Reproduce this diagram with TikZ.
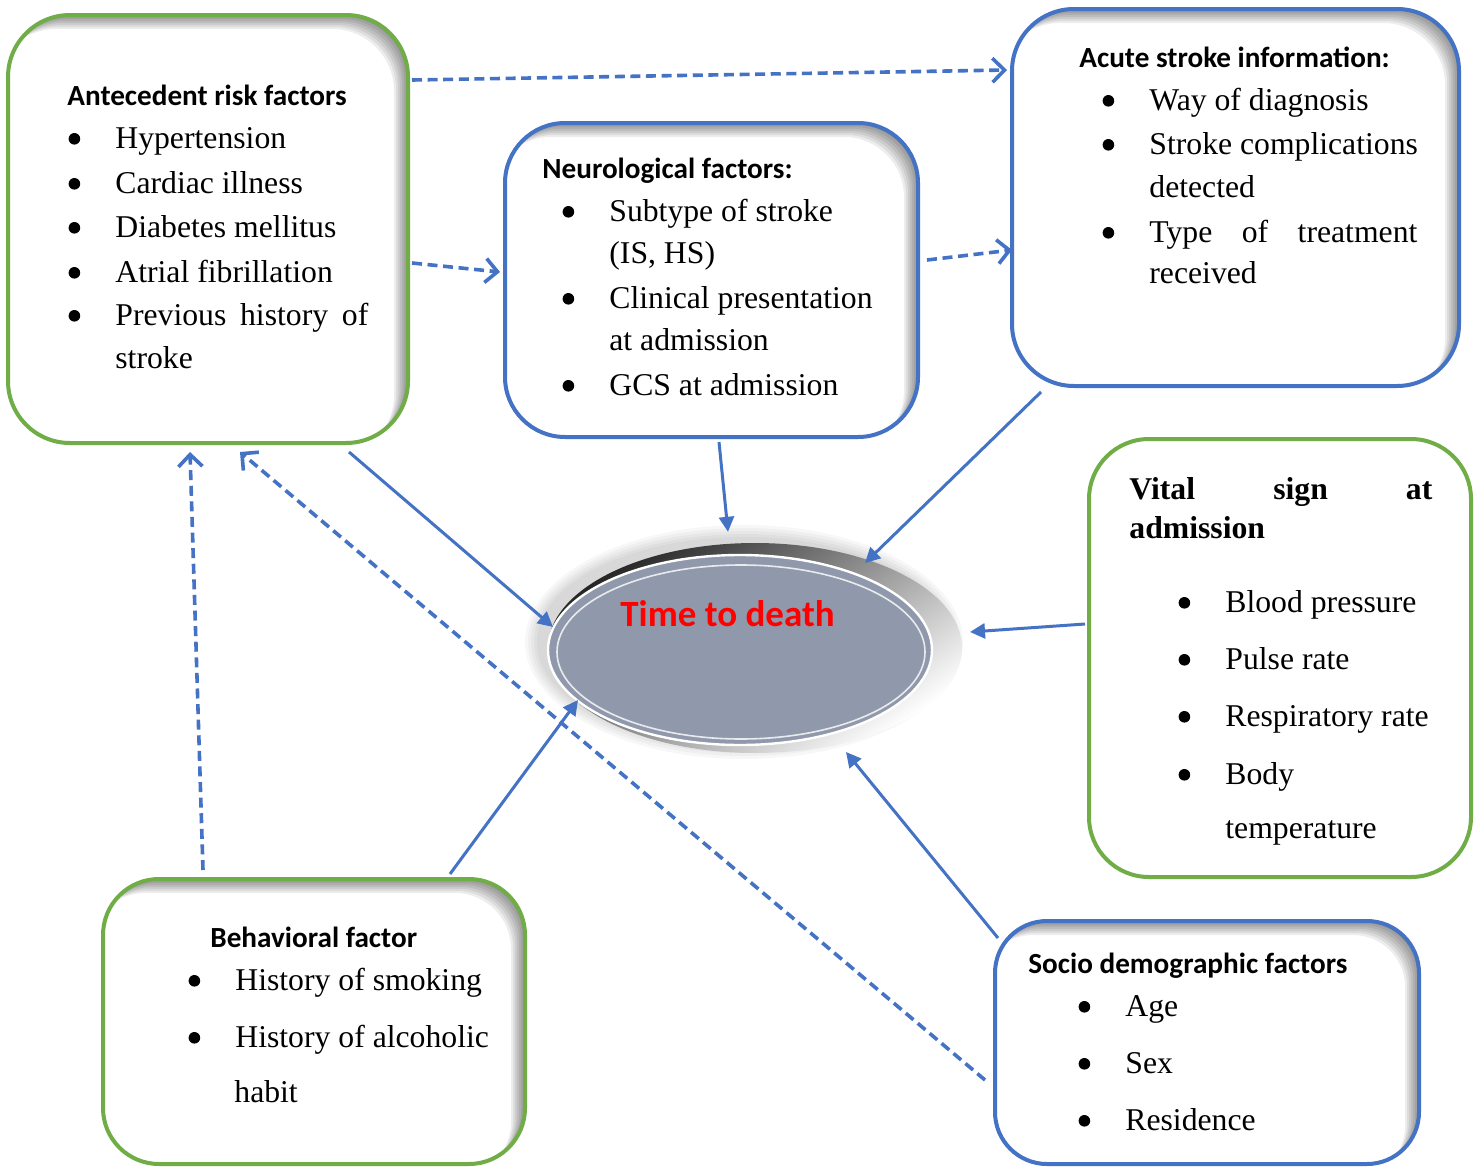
\documentclass[tikz,border=0pt]{standalone}
\usepackage{fontspec}
\setmainfont{Liberation Serif}
\newfontfamily\calfont{Carlito}
\usetikzlibrary{arrows.meta,calc,shapes.geometric}
\definecolor{bblue}{HTML}{4472C4}
\definecolor{bgreen}{HTML}{70AD47}
\definecolor{facegray}{HTML}{9099AC}
\newcommand\bulit{\makebox[0pt][c]{\raisebox{1.7pt}{\tikz\fill[black] (0,0) circle (2.9pt);}}\hspace{20.5pt}}
\newcommand\inshadow[5]{%
  \begin{scope}
    \clip[rounded corners=#5] (#1,#2) rectangle (#3,#4);
    \foreach \s in {2,4,...,14}{
      \fill[black, opacity=0.07, even odd rule, rounded corners=#5]
        (#1-60,#2-60) rectangle (#3+60,#4+60)
        (#1-\s,#2+\s) rectangle (#3-\s,#4+\s);
    }
  \end{scope}}
\begin{document}
\begin{tikzpicture}[x=0.5pt,y=-0.5pt,
  box/.style={draw=#1, line width=2pt, inner sep=0pt, rectangle},
  hd/.style={font=\calfont\bfseries\fontsize{14.6}{17}\selectfont, anchor=base west, inner sep=0pt},
  it/.style={font=\fontsize{15.85}{19}\selectfont, anchor=base west, inner sep=0pt},
  sarr/.style={draw=bblue, line width=1.5pt, -{Triangle[length=7.5pt,width=7.5pt]}},
  darr/.style={draw=bblue, line width=1.8pt, dash pattern=on 5pt off 2.8pt, -{Straight Barb[length=6pt,width=12pt]}}]
\useasboundingbox (0,0) rectangle (1478,1167);
\fill[white] (0,0) rectangle (1478,1167);

% inner shadows
\inshadow{8}{15}{408}{443}{31pt}
\inshadow{505}{123}{918}{437}{30pt}
\inshadow{1012}{9}{1459}{386}{31pt}
\inshadow{103}{879}{525}{1164}{28pt}
\inshadow{995}{921}{1419}{1164}{26pt}

% boxes
\node[box=bgreen, rounded corners=31pt, minimum width=200pt, minimum height=214pt] (A) at (208,229) {};
\node[box=bblue, rounded corners=30pt, minimum width=206.5pt, minimum height=157pt] (N) at (711.5,280) {};
\node[box=bblue, rounded corners=31pt, minimum width=223.5pt, minimum height=188.5pt] (S) at (1235.5,197.5) {};
\node[box=bgreen, rounded corners=30pt, minimum width=191pt, minimum height=219pt] (V) at (1280,658) {};
\node[box=bgreen, rounded corners=28pt, minimum width=211pt, minimum height=142.5pt] (B) at (314,1021.5) {};
\node[box=bblue, rounded corners=26pt, minimum width=212pt, minimum height=121.5pt] (D) at (1207,1042.5) {};

% central ellipse
\foreach \k in {1,...,5}{
  \fill[black, opacity=0.03] (744,642) ellipse [x radius=204+3*\k, y radius=102+3*\k];
}
\shade[top color=black!85, middle color=gray!35, bottom color=white, shading angle=35] (755,648) ellipse [x radius=207, y radius=105];
\node[ellipse, minimum width=192pt, minimum height=95pt, fill=facegray, draw=white, line width=1.2pt, inner sep=0pt] (T) at (740,650) {};
\draw[white, opacity=0.8, line width=0.8pt] (741,652) ellipse [x radius=184, y radius=87];
\node[anchor=base, font=\calfont\bfseries\fontsize{18.5}{20}\selectfont, text=red, inner sep=0pt] (ttd) at (727.5,626) {Time to death};

% Antecedent
\node[hd] (ah) at (67,105) {Antecedent risk factors};
\node[it] (a1) at (74,148) {\bulit Hypertension};
\node[it] (a2) at (74,193) {\bulit Cardiac illness};
\node[it] (a3) at (74,237) {\bulit Diabetes mellitus};
\node[it] (a4) at (74,282) {\bulit Atrial fibrillation};
\node[it] (a5) at (74,325) {\bulit\makebox[126.5pt][s]{Previous history of}};
\node[it] (a6) at (115,368) {stroke};

% Neurological
\node[hd] (nh) at (542,178) {Neurological factors:};
\node[it] (n1) at (568,221) {\bulit Subtype of stroke};
\node[it] (n2) at (609,263) {(IS, HS)};
\node[it] (n3) at (568,308) {\bulit Clinical presentation};
\node[it] (n4) at (609,350) {at admission};
\node[it] (n5) at (568,395) {\bulit GCS at admission};

% Acute stroke
\node[hd] (sh) at (1079,67) {Acute stroke information:};
\node[it] (s1) at (1108,110) {\bulit Way of diagnosis};
\node[it] (s2) at (1108,154) {\bulit Stroke complications};
\node[it] (s3) at (1149,197) {detected};
\node[it] (s4) at (1108,242) {\bulit\makebox[134pt][s]{Type of treatment}};
\node[it] (s5) at (1149,283) {received};

% Vital signs
\node[it, font=\bfseries\fontsize{15.85}{19}\selectfont] (vh1) at (1129,499) {\makebox[151.5pt][s]{Vital sign at}};
\node[it, font=\bfseries\fontsize{15.85}{19}\selectfont] (vh2) at (1129,538) {admission};
\node[it] (v1) at (1184,612) {\bulit Blood pressure};
\node[it] (v2) at (1184,669) {\bulit Pulse rate};
\node[it] (v3) at (1184,726) {\bulit Respiratory rate};
\node[it] (v4) at (1184,784) {\bulit Body};
\node[it] (v5) at (1225,838) {temperature};

% Behavioral
\node[hd] (bh) at (210,947) {Behavioral factor};
\node[it] (b1) at (194,990) {\bulit History of smoking};
\node[it] (b2) at (194,1047) {\bulit History of alcoholic};
\node[it] (b3) at (234,1102) {habit};

% Socio demographic
\node[hd] (dh) at (1028,973) {Socio demographic factors};
\node[it] (d1) at (1084,1016) {\bulit Age};
\node[it] (d2) at (1084,1073) {\bulit Sex};
\node[it] (d3) at (1084,1130) {\bulit Residence};

% connectors
\draw[darr] ($(A.east)+(2,-149)$) -- ($(S.west)+(-3,-127.5)$);
\draw[darr] ($(A.east)+(2,34)$) -- ($(N.west)+(-3,-8)$);
\draw[darr] ($(N.east)+(7,-20)$) -- ($(S.west)+(2,52.5)$);
\draw[sarr] ($(N.south)+(7.5,3)$) -- ($(T.north)+(-12,-22)$);
\draw[sarr] ($(S.south west)+(31,4)$) -- ($(T.center)+(125,-87)$);
\draw[sarr] ($(A.south)+(141,7)$) -- ($(T.center)+(-187,-23)$);
\draw[sarr] ($(V.west)+(-2,-34)$) -- ($(T.center)+(230,-18)$);
\draw[sarr] ($(B.north)+(136,-3)$) -- ($(T.center)+(-162,50)$);
\draw[sarr] ($(D.north west)+(5,19)$) -- ($(T.center)+(106,102)$);
\draw[darr] ($(B.north)+(-111,-7)$) -- ($(A.south)+(-18,7)$);
\draw[darr] ($(D.west)+(-8,37.5)$) -- ($(A.south)+(32,7)$);
\end{tikzpicture}
\end{document}
